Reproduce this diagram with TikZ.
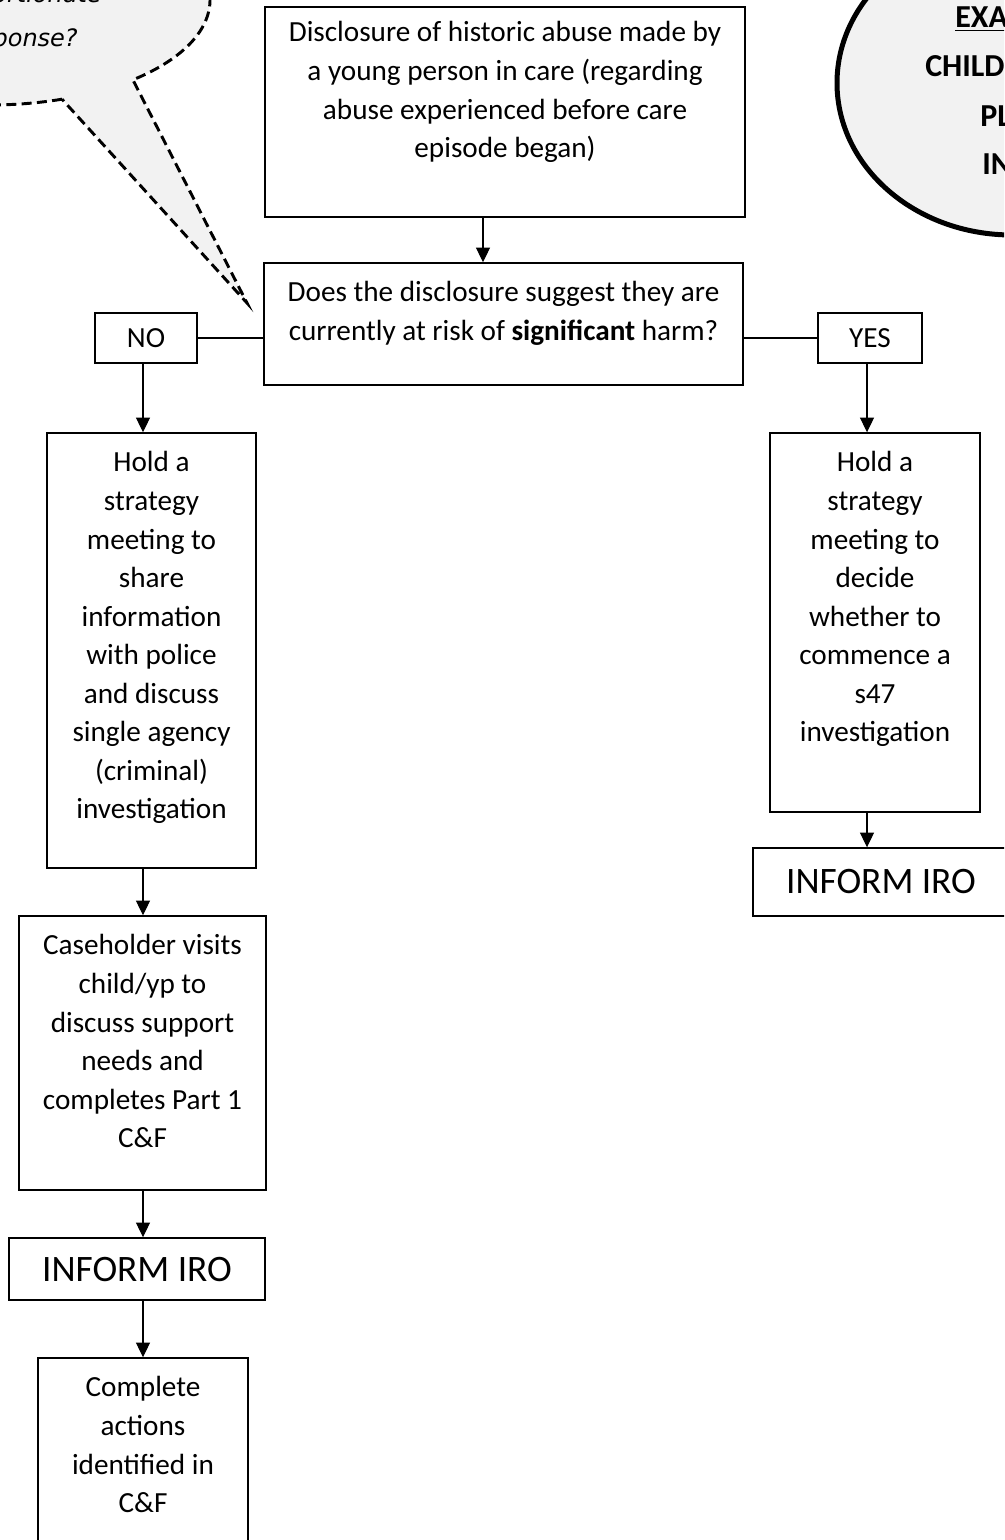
\documentclass[tikz,border=0pt]{standalone}
\usepackage{fontspec}
\setmainfont{Carlito}
\newfontfamily\calloutfont{DejaVu Sans}
\usetikzlibrary{arrows.meta}
\newcommand{\bodysize}{\fontsize{21.9pt}{28.9pt}\selectfont}
\newcommand{\tbox}[4][9pt]{\parbox[c][#3][t]{#2}{\vspace*{#1}\centering\strut #4\par}}
\definecolor{bubble}{HTML}{F2F2F2}
\tikzset{
  box/.style={draw=black, line width=1.1pt, fill=white, inner sep=0pt, font=\bodysize},
  ln/.style={line width=0.8pt, draw=black},
  arr/.style={ln, -{Triangle[length=11pt,width=10.5pt]}},
  iro/.style={box, font=\fontsize{28pt}{34pt}\selectfont},
  yn/.style={box, font=\bodysize, minimum height=37.5pt},
  ovaltext/.style={font=\bfseries\fontsize{24pt}{30pt}\selectfont, inner sep=0pt, anchor=base west},
  calltext/.style={font=\calloutfont\itshape\fontsize{18pt}{22pt}\selectfont, inner sep=0pt, anchor=base east}
}
\begin{document}
\begin{tikzpicture}[x=0.75pt, y=-0.75pt]
\useasboundingbox (0,0) rectangle (1004,1540);
\clip (0,0) rectangle (1004,1540);

% callout bubble (top left)
\filldraw[fill=bubble, draw=black, line width=2.2pt, dash pattern=on 7.5pt off 4pt]
  (62,99.2) arc[start angle=70.9, end angle=409.5, x radius=220, y radius=105]
  -- (247,303) -- cycle;
\node[calltext] (c1) at (102,3) {proportionate};
\node[calltext] (c2) at (78,47) {response?};

% oval (top right)
\filldraw[fill=bubble, draw=black, line width=3.75pt] (1012,83) ellipse[x radius=175, y radius=152];
\node[ovaltext] (o1) at (955,28) {\underline{EXAMPLE}};
\node[ovaltext] (o2) at (925,77) {CHILDREN};
\node[ovaltext] (o3) at (980,127) {PLAN};
\node[ovaltext] (o4) at (982,175) {INFO};

% boxes
\node[box] (T) at (505,112) {\tbox[6pt]{360pt}{157.5pt}{Disclosure of historic abuse made by\\ a young person in care (regarding\\ abuse experienced before care\\ episode began)}};
\node[box] (D) at (503.5,324) {\tbox{359.25pt}{91.5pt}{Does the disclosure suggest they are\\ currently at risk of \textbf{significant} harm?}};
\node[yn, minimum width=76.5pt] (NO) at (146,338) {NO};
\node[yn, minimum width=78pt] (YES) at (870,338) {YES};
\node[box] (L1) at (151.5,650.5) {\tbox{156.75pt}{326.25pt}{Hold a\\ strategy\\ meeting to\\ share\\ information\\ with police\\ and discuss\\ single agency\\ (criminal)\\ investigation}};
\node[box] (L2) at (142.5,1053) {\tbox{185.25pt}{205.5pt}{Caseholder visits\\ child/yp to\\ discuss support\\ needs and\\ completes Part 1\\ C\&F}};
\node[iro, minimum width=192pt, minimum height=46.5pt] (IRO1) at (137,1269) {INFORM IRO};
\node[box] (L3) at (143,1451.5) {\tbox{157.5pt}{140.25pt}{Complete\\ actions\\ identified in\\ C\&F}};
\node[box] (R1) at (875,622.5) {\tbox{157.5pt}{284.25pt}{Hold a\\ strategy\\ meeting to\\ decide\\ whether to\\ commence a\\ s47\\ investigation}};
\node[iro, minimum width=192pt, minimum height=51pt] (IRO2) at (881,882) {INFORM IRO};

% connector columns
\coordinate (cT) at (483,0);
\coordinate (cL) at (143,0);
\coordinate (cR) at (867,0);

\draw[arr] (T.south -| cT) -- (D.north -| cT);
\draw[ln] (NO.east) -- (NO.east -| D.west);
\draw[ln] (YES.west) -- (YES.west -| D.east);
\draw[arr] (NO.south -| cL) -- (L1.north -| cL);
\draw[arr] (L1.south -| cL) -- (L2.north -| cL);
\draw[arr] (L2.south -| cL) -- (IRO1.north -| cL);
\draw[arr] (IRO1.south -| cL) -- (L3.north -| cL);
\draw[arr] (YES.south -| cR) -- (R1.north -| cR);
\draw[arr] (R1.south -| cR) -- (IRO2.north -| cR);
\end{tikzpicture}
\end{document}
